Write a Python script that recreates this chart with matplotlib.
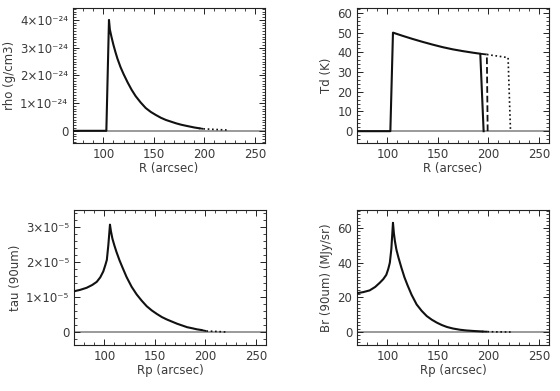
import matplotlib
matplotlib.use('Agg')
import matplotlib.pyplot as plt
from matplotlib.ticker import AutoMinorLocator, FuncFormatter

# --- data ---
# density, units of 1e-24 g/cm3
r_rho = [70, 103, 105.6, 106.5, 108, 110, 112, 114, 117, 120, 124, 128, 132, 137, 142, 147, 152, 157, 162,
         167, 172, 177, 182, 186, 190, 195]
rho = [0, 0, 4.0, 3.65, 3.4, 3.1, 2.84, 2.6, 2.3, 2.05, 1.75, 1.48, 1.25, 1.02, 0.82, 0.68, 0.57, 0.47, 0.39,
       0.33, 0.27, 0.22, 0.18, 0.15, 0.12, 0.09]
r_rho_dash = [195, 199]
rho_dash = [0.09, 0.07]
r_rho_dot = [199, 205, 210, 216, 222]
rho_dot = [0.07, 0.06, 0.05, 0.04, 0.03]

# dust temperature, K
r_td = [70, 103, 105.6, 115, 125, 135, 145, 155, 165, 175, 185, 192, 195.3]
td = [0, 0, 50, 48.4, 46.8, 45.3, 43.9, 42.6, 41.5, 40.6, 39.8, 39.3, 0]
r_td_dash = [192, 198.5, 199.3]
td_dash = [39.3, 38.9, 0]
r_td_dot = [198.5, 205, 212, 219.5, 221.9]
td_dot = [38.9, 38.4, 37.9, 37.3, 0]

# optical depth at 90um, units of 1e-5
r_tau = [70, 76, 82.5, 88, 92.5, 96, 99, 101, 102.5, 104, 105.6, 106.5, 108, 110, 112, 115, 118, 122, 127, 132,
         137, 142, 147, 152, 157, 162, 167, 172, 177, 182, 187, 191.5, 196]
tau = [1.17, 1.21, 1.27, 1.35, 1.44, 1.57, 1.74, 1.92, 2.07, 2.5, 3.08, 2.9, 2.68, 2.48, 2.3, 2.06, 1.85, 1.58,
       1.3, 1.08, 0.9, 0.74, 0.62, 0.52, 0.43, 0.36, 0.3, 0.24, 0.19, 0.14, 0.11, 0.08, 0.06]
r_tau_dash = [196, 201]
tau_dash = [0.06, 0.03]
r_tau_dot = [201, 210, 216, 222]
tau_dot = [0.03, 0.02, 0.01, 0.0]

# surface brightness at 90um, MJy/sr
r_br = [70, 76, 82.5, 88, 92.5, 96, 99, 101, 102.5, 104, 105.6, 106.5, 107.5, 109, 111, 114, 117, 120, 124, 129,
        134, 139, 144, 149, 154, 159, 165, 172, 178, 185, 194]
br = [22.4, 23.0, 24.0, 26.0, 28.4, 30.5, 33.0, 36.5, 40.0, 48.0, 63.0, 57.0, 52.5, 47.5, 43.0, 37.0, 31.5, 27.0,
      21.5, 15.9, 12.2, 9.2, 7.1, 5.4, 4.0, 2.9, 2.0, 1.3, 0.9, 0.6, 0.3]
r_br_dash = [194, 199]
br_dash = [0.3, 0.2]
r_br_dot = [199, 206, 214, 222]
br_dot = [0.2, 0.1, 0.05, 0.0]

# axis ranges and tick values
xlims = (70, 260)
xticks = [100, 150, 200, 250]
rho_ticks = [0, 1e-24, 2e-24, 3e-24, 4e-24]
td_ticks = [0, 10, 20, 30, 40, 50, 60]
tau_ticks = [0, 1e-5, 2e-5, 3e-5]
br_ticks = [0, 20, 40, 60]

ink = '#111111'
txt = '#3a3a3a'
dots = (0, (1, 1.6))
plt.rcParams['font.family'] = 'DejaVu Sans'
plt.rcParams['font.size'] = 8

SUP = str.maketrans('-0123456789', '⁻⁰¹²³⁴⁵⁶⁷⁸⁹')

def sci(exp):
  def f(v, pos):
    k = int(round(v / 10.0**exp))
    if k == 0:
      return '0'
    return '%d×10%s' % (k, str(exp).translate(SUP))
  return FuncFormatter(f)

def setup(ax, ylim, yticks, yminor, xlabel, ylabel):
  ax.set_xlim(*xlims)
  ax.set_ylim(*ylim)
  ax.axhline(0, color='#9a9a9a', lw=1.4, zorder=1)
  ax.set_xticks(xticks)
  ax.set_yticks(yticks)
  ax.xaxis.set_minor_locator(AutoMinorLocator(5))
  ax.yaxis.set_minor_locator(AutoMinorLocator(yminor))
  ax.tick_params(which='both', direction='in', top=True, right=True, colors='#222222',
                 labelcolor=txt, labelsize=8.5)
  ax.tick_params(which='major', length=4.5, width=0.7)
  ax.tick_params(which='minor', length=2.2, width=0.6)
  for s in ax.spines.values():
    s.set_color('#222222')
    s.set_linewidth(0.8)
  ax.set_xlabel(xlabel, color=txt, fontsize=8.5, labelpad=1)
  ax.set_ylabel(ylabel, color=txt, fontsize=8.5, labelpad=3)

def curves(ax, r, y, rd, yd, ro, yo, scale=1.0):
  ax.plot(r, [v*scale for v in y], '-', color=ink, lw=1.5, zorder=3)
  ax.plot([r[-1]] + rd, [y[-1]*scale] + [v*scale for v in yd], '--', color=ink, lw=1.3, zorder=3)
  ax.plot(ro, [v*scale for v in yo], linestyle=dots, color=ink, lw=1.2, zorder=3)

fig = plt.figure(figsize=(5.6, 3.91), dpi=100)
w, h = 192/560., 135/391.
ax1 = fig.add_axes([73/560., (391-143)/391., w, h])
ax2 = fig.add_axes([357/560., (391-143)/391., w, h])
ax3 = fig.add_axes([74/560., (391-345)/391., w, h])
ax4 = fig.add_axes([357/560., (391-345)/391., w, h])

# rho
curves(ax1, r_rho, rho, r_rho_dash, rho_dash, r_rho_dot, rho_dot, 1e-24)
setup(ax1, (-0.44e-24, 4.43e-24), rho_ticks, 10, 'R (arcsec)', 'rho (g/cm3)')
ax1.yaxis.set_major_formatter(sci(-24))

# Td
ax2.plot(r_td, td, '-', color=ink, lw=1.5, zorder=3)
ax2.plot(r_td_dash, td_dash, '--', color=ink, lw=1.3, zorder=3)
ax2.plot(r_td_dot, td_dot, linestyle=dots, color=ink, lw=1.2, zorder=3)
setup(ax2, (-6, 62.5), td_ticks, 5, 'R (arcsec)', 'Td (K)')

# tau
curves(ax3, r_tau, tau, r_tau_dash, tau_dash, r_tau_dot, tau_dot, 1e-5)
setup(ax3, (-0.37e-5, 3.5e-5), tau_ticks, 5, 'Rp (arcsec)', 'tau (90um)')
ax3.yaxis.set_major_formatter(sci(-5))

# Br
curves(ax4, r_br, br, r_br_dash, br_dash, r_br_dot, br_dot)
setup(ax4, (-7.5, 70.4), br_ticks, 10, 'Rp (arcsec)', 'Br (90um) (MJy/sr)')

fig.savefig('out.png', dpi=100)
